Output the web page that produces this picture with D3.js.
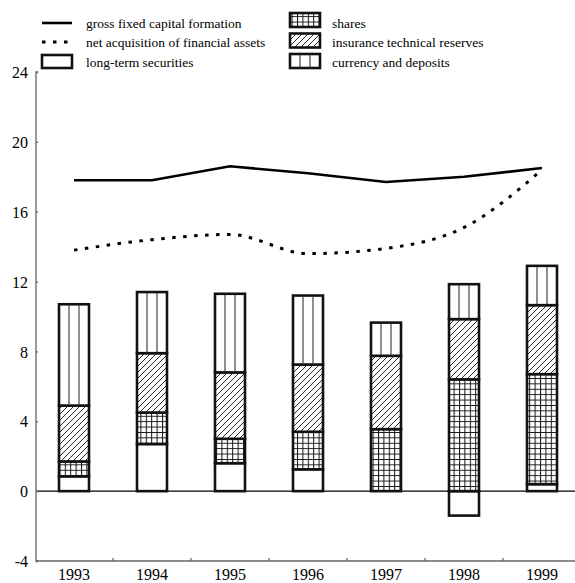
<!DOCTYPE html>
<html>
<head>
<meta charset="utf-8">
<script src="https://cdn.jsdelivr.net/npm/d3@7"></script>
<style>
  body { margin: 0; background: #fff; }
</style>
</head>
<body>
<script>
// data
var years = ['1993', '1994', '1995', '1996', '1997', '1998', '1999']
var long_term_securities = [0.85, 2.7, 1.6, 1.25, 0, -1.4, 0.4]
var shares = [0.85, 1.8, 1.4, 2.15, 3.55, 6.4, 6.3]
var insurance_reserves = [3.2, 3.4, 3.8, 3.85, 4.2, 3.45, 3.95]
var currency_deposits = [5.8, 3.5, 4.5, 3.95, 1.9, 2.0, 2.25]
var gross_fixed_capital = [17.8, 17.8, 18.6, 18.2, 17.7, 18.0, 18.5]
var net_financial_assets = [13.8, 14.4, 14.7, 13.6, 13.9, 15.1, 18.4]
var y_ticks = [-4, 0, 4, 8, 12, 16, 20, 24]

var W = 575
var H = 583
var serif = 'Liberation Serif'
var svg = d3.select('body').append('svg').attr('width', W).attr('height', H)

var defs = svg.append('defs')
var grid = defs.append('pattern').attr('id', 'grid').attr('patternUnits', 'userSpaceOnUse')
  .attr('width', 5.4).attr('height', 5.4)
grid.append('rect').attr('width', 5.4).attr('height', 5.4).attr('fill', '#fff')
grid.append('path').attr('d', 'M0,0.5H5.4M0.5,0V5.4').attr('stroke', '#111').attr('stroke-width', 1)

var diag = defs.append('pattern').attr('id', 'diag').attr('patternUnits', 'userSpaceOnUse')
  .attr('width', 6).attr('height', 6)
diag.append('rect').attr('width', 6).attr('height', 6).attr('fill', '#fff')
diag.append('path').attr('d', 'M-1,7L7,-1M-1,1L1,-1M5,7L7,5').attr('stroke', '#111').attr('stroke-width', 0.9)

var x = d3.scaleBand().domain(years).range([35, 581])
var y = d3.scaleLinear().domain([-4, 24]).range([561, 72])
var bar_w = 30

var table = years.map(function (yr, i) {
  return { year: yr, lts: long_term_securities[i], shares: shares[i], ins: insurance_reserves[i], cur: currency_deposits[i] }
})
var keys = ['lts', 'shares', 'ins', 'cur']
var fills = { lts: '#fff', shares: 'url(#grid)', ins: 'url(#diag)', cur: '#fff' }
var series = d3.stack().keys(keys).offset(d3.stackOffsetDiverging)(table)

// zero line
svg.append('line').attr('x1', 36).attr('x2', W).attr('y1', y(0)).attr('y2', y(0))
  .attr('stroke', '#000').attr('stroke-width', 1.2)

// bars
series.forEach(function (s) {
  var g = svg.append('g')
  s.forEach(function (d) {
    if (d[1] === d[0]) return
    var bx = x(d.data.year) + (x.bandwidth() - bar_w) / 2
    var y0 = y(Math.max(d[0], d[1]))
    var y1 = y(Math.min(d[0], d[1]))
    g.append('rect').attr('x', bx).attr('y', y0).attr('width', bar_w).attr('height', y1 - y0)
      .attr('fill', fills[s.key]).attr('stroke', '#111').attr('stroke-width', 2.6)
    if (s.key === 'cur') {
      [1 / 3, 2 / 3].forEach(function (f) {
        g.append('line').attr('x1', bx + bar_w * f).attr('x2', bx + bar_w * f)
          .attr('y1', y0 + 1).attr('y2', y1 - 1).attr('stroke', '#333').attr('stroke-width', 1.1)
      })
    }
  })
})

// lines
var cx = function (d, i) { return x(years[i]) + x.bandwidth() / 2 }
svg.append('path').datum(gross_fixed_capital)
  .attr('d', d3.line().x(cx).y(function (d) { return y(d) }))
  .attr('fill', 'none').attr('stroke', '#000').attr('stroke-width', 2.6)
svg.append('path').datum(net_financial_assets)
  .attr('d', d3.line().x(cx).y(function (d) { return y(d) }).curve(d3.curveMonotoneX))
  .attr('fill', 'none').attr('stroke', '#000').attr('stroke-width', 3).attr('stroke-dasharray', '3.5,7.5')

// axes
var y_axis = svg.append('g').attr('transform', 'translate(36,0)')
  .call(d3.axisRight(y).tickValues(y_ticks).tickSize(2).tickFormat(function (d) { return String(d) }))
y_axis.select('.domain').attr('d', 'M2,' + y(24) + 'H0V' + y(-4) + 'H2')
y_axis.selectAll('path,line').attr('stroke', '#666').attr('stroke-width', 1.3)
y_axis.selectAll('text').attr('x', -8).attr('text-anchor', 'end').attr('dy', '0.35em')
  .style('font-size', '16px').style('font-family', serif)

var x_axis = svg.append('g').attr('transform', 'translate(0,' + y(-4) + ')')
x_axis.append('line').attr('x1', 36).attr('x2', W).attr('stroke', '#666').attr('stroke-width', 1.3)
x_axis.selectAll('.tk').data(years.slice(1)).enter().append('line')
  .attr('x1', function (d) { return x(d) }).attr('x2', function (d) { return x(d) })
  .attr('y1', 0).attr('y2', -3).attr('stroke', '#666').attr('stroke-width', 1.3)
x_axis.selectAll('text').data(years).enter().append('text')
  .attr('x', function (d) { return x(d) + x.bandwidth() / 2 }).attr('y', 19)
  .attr('text-anchor', 'middle').style('font-size', '16px').style('font-family', serif)
  .text(function (d) { return d })

// legend
var lg = svg.append('g')
lg.append('line').attr('x1', 42).attr('x2', 72).attr('y1', 23).attr('y2', 23).attr('stroke', '#000').attr('stroke-width', 2.6)
lg.append('line').attr('x1', 42).attr('x2', 72).attr('y1', 42).attr('y2', 42).attr('stroke', '#000').attr('stroke-width', 3).attr('stroke-dasharray', '3.5,7.5')
lg.append('rect').attr('x', 42).attr('y', 55).attr('width', 30).attr('height', 13).attr('fill', '#fff').attr('stroke', '#111').attr('stroke-width', 2.6)
var left_labels = ['gross fixed capital formation', 'net acquisition of financial assets', 'long-term securities']
left_labels.forEach(function (t, i) {
  lg.append('text').attr('x', 86).attr('y', 23 + i * 19.5).attr('dy', '0.35em')
    .style('font-size', '13.5px').style('font-family', serif).text(t)
})
var right_items = [['shares', 'url(#grid)'], ['insurance technical reserves', 'url(#diag)'], ['currency and deposits', '#fff']]
right_items.forEach(function (it, i) {
  var yy = 13 + i * 20.5
  lg.append('rect').attr('x', 290).attr('y', yy).attr('width', 30).attr('height', 14).attr('fill', it[1]).attr('stroke', '#111').attr('stroke-width', 2.6)
  if (i === 2) {
    [1 / 3, 2 / 3].forEach(function (f) {
      lg.append('line').attr('x1', 290 + 30 * f).attr('x2', 290 + 30 * f).attr('y1', yy).attr('y2', yy + 14).attr('stroke', '#333').attr('stroke-width', 1.1)
    })
  }
  lg.append('text').attr('x', 332).attr('y', 23 + i * 19.5).attr('dy', '0.35em')
    .style('font-size', '13.5px').style('font-family', serif).text(it[0])
})
</script>
</body>
</html>
